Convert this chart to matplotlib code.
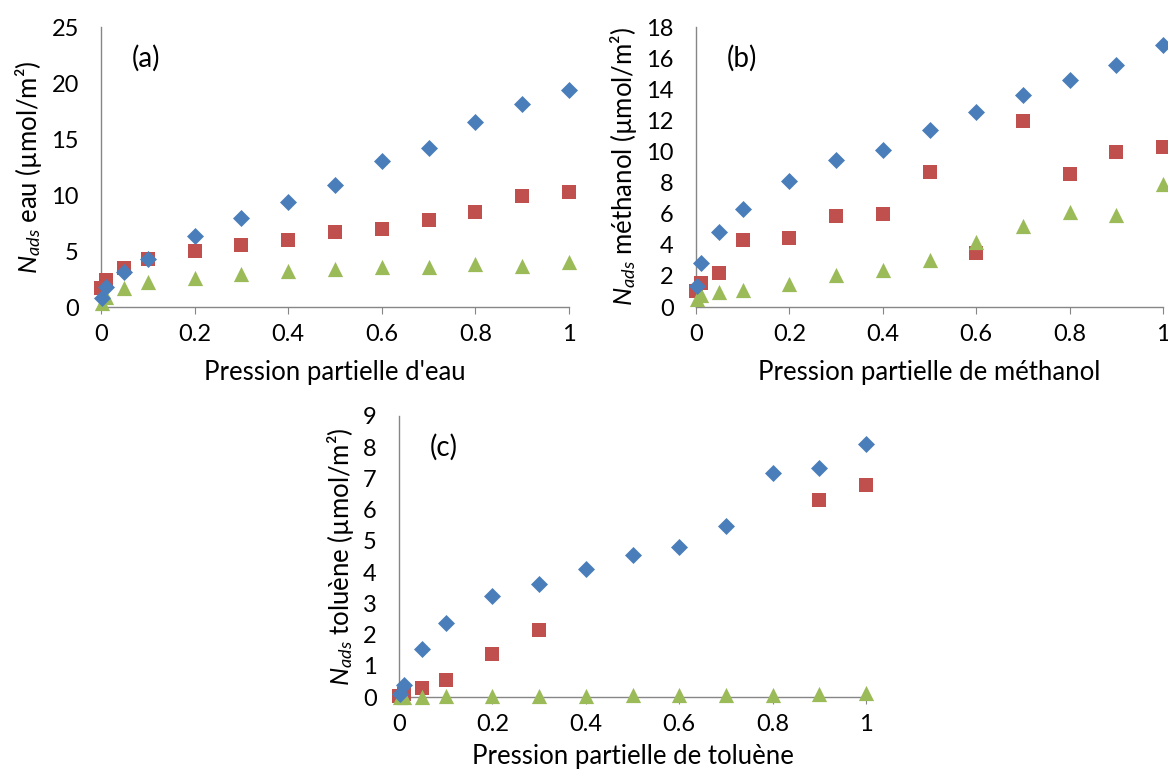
import numpy as np
import matplotlib
matplotlib.use("Agg")
import matplotlib.pyplot as plt
from matplotlib.ticker import FuncFormatter, MultipleLocator

plt.rcParams['font.family'] = ['Lato', 'DejaVu Sans']
plt.rcParams['mathtext.fontset'] = 'custom'
plt.rcParams['mathtext.rm'] = 'Lato'
plt.rcParams['mathtext.it'] = 'Lato:italic'

# ---- data ----
p = [0.003, 0.01, 0.05, 0.1, 0.2, 0.3, 0.4, 0.5, 0.6, 0.7, 0.8, 0.9, 1.0]
p_red0 = [0.0, 0.01, 0.05, 0.1, 0.2, 0.3, 0.4, 0.5, 0.6, 0.7, 0.8, 0.9, 1.0]

eau_blue = [0.8, 1.8, 3.1, 4.25, 6.35, 7.95, 9.4, 10.85, 13.0, 14.2, 16.55, 18.1, 19.35]
eau_red = [1.7, 2.45, 3.45, 4.3, 5.0, 5.5, 5.95, 6.7, 7.0, 7.75, 8.45, 9.95, 10.25]
eau_green = [0.4, 0.85, 1.7, 2.2, 2.6, 2.95, 3.25, 3.4, 3.55, 3.55, 3.85, 3.7, 4.0]

meoh_blue = [1.35, 2.8, 4.82, 6.27, 8.12, 9.48, 10.09, 11.39, 12.54, 13.66, 14.58, 15.55, 16.83]
meoh_red = [1.0, 1.53, 2.21, 4.33, 4.42, 5.86, 5.99, 8.71, 3.48, 11.94, 8.54, 9.99, 10.28]
meoh_green = [0.5, 0.8, 0.98, 1.12, 1.45, 2.08, 2.4, 3.05, 4.2, 5.22, 6.08, 5.92, 7.92]

tol_blue = [0.1, 0.4, 1.55, 2.37, 3.25, 3.62, 4.1, 4.55, 4.8, 5.47, 7.17, 7.34, 8.09]
tol_red = [0.02, 0.1, 0.3, 0.55, 1.38, 2.13, np.nan, np.nan, np.nan, np.nan, np.nan, 6.3, 6.8]
tol_green = [0.0, 0.0, 0.0, 0.02, 0.03, 0.03, 0.04, 0.05, 0.05, 0.07, 0.08, 0.1, 0.12]

BLUE = '#4A7EBB'
RED = '#C0504D'
GREEN = '#9BBB59'
SPINE = '#868686'

W, H = 1168, 771
fig = plt.figure(figsize=(W / 100, H / 100), dpi=100)


def px_axes(x0, x1, ytop, ybot):
    return fig.add_axes([x0 / W, (H - ybot) / H, (x1 - x0) / W, (ybot - ytop) / H])


def style(ax, ymax, ystep, xlabel, ylabel, tag, xpad=11):
    ax.set_xlim(0, 1)
    ax.set_ylim(0, ymax)
    ax.yaxis.set_major_locator(MultipleLocator(ystep))
    ax.xaxis.set_major_locator(MultipleLocator(0.2))
    ax.xaxis.set_major_formatter(FuncFormatter(lambda v, _: '%g' % round(v, 2)))
    ax.yaxis.set_major_formatter(FuncFormatter(lambda v, _: '%g' % v))
    for s in ['top', 'right']:
        ax.spines[s].set_visible(False)
    for s in ['left', 'bottom']:
        ax.spines[s].set_color(SPINE)
        ax.spines[s].set_linewidth(1.0)
    ax.tick_params(axis='x', direction='out', length=5, color=SPINE, labelsize=17, pad=7)
    ax.tick_params(axis='y', length=0, labelsize=17, pad=16)
    ax.set_xlabel(xlabel, fontsize=18.5, labelpad=xpad)
    ax.set_ylabel(ylabel, fontsize=18.5, labelpad=5)
    ax.text(0.065, 0.89, tag, transform=ax.transAxes, fontsize=20, ha='left', va='center')


def draw(ax, blue, red, green):
    ax.scatter(p_red0, red, marker='s', s=110, color=RED, zorder=3, clip_on=False, linewidths=0)
    ax.scatter(p, green, marker='^', s=120, color=GREEN, zorder=4, clip_on=False, linewidths=0)
    ax.scatter(p, blue, marker='D', s=75, color=BLUE, zorder=5, clip_on=False, linewidths=0)


ax_a = px_axes(101, 569, 27, 307)
draw(ax_a, eau_blue, eau_red, eau_green)
style(ax_a, 25, 5, "Pression partielle d'eau", r'$N_{ads}$ eau (µmol/m²)', '(a)')

ax_b = px_axes(696, 1163, 27, 307)
draw(ax_b, meoh_blue, meoh_red, meoh_green)
style(ax_b, 18, 2, 'Pression partielle de méthanol', r'$N_{ads}$ méthanol (µmol/m²)', '(b)')

ax_c = px_axes(399, 866, 416, 697)
draw(ax_c, tol_blue, tol_red, tol_green)
style(ax_c, 9, 1, 'Pression partielle de toluène', r'$N_{ads}$ toluène (µmol/m²)', '(c)', xpad=7)

fig.savefig('out.png', dpi=100)
